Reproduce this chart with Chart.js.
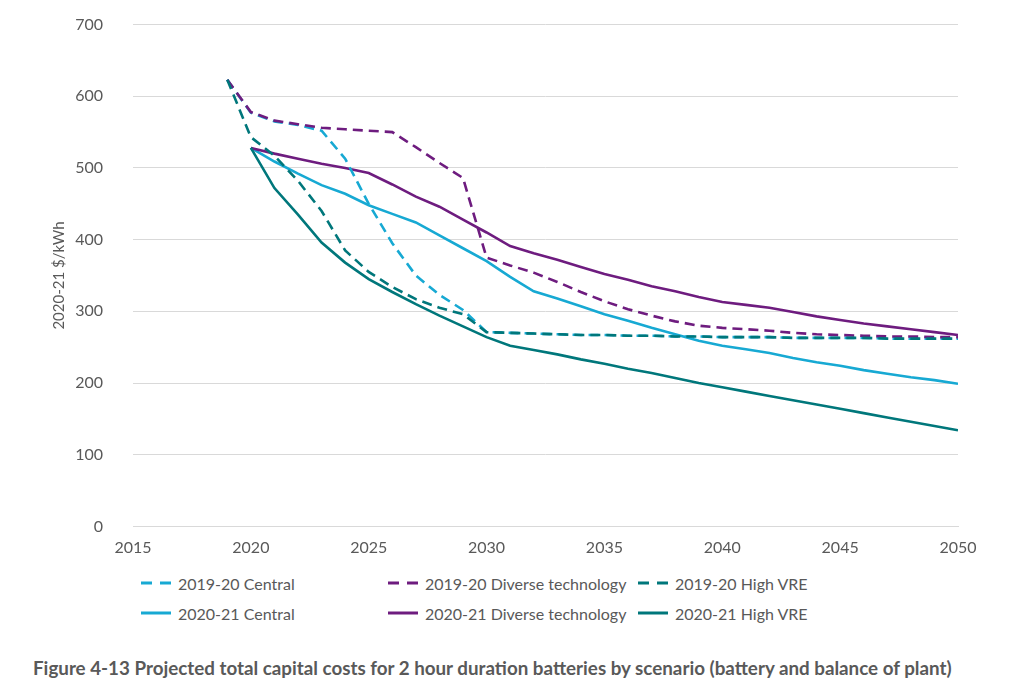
<!DOCTYPE html>
<html>
<head>
<meta charset="utf-8">
<script src="https://cdn.jsdelivr.net/npm/chart.js@4.4.1/dist/chart.umd.min.js"></script>
<style>
  body { margin: 0; background: #fff; font-family: Lato, "Open Sans", sans-serif; }
  #wrap { position: relative; width: 1024px; height: 699px; overflow: hidden; }
  #chart { position: absolute; left: 0; top: -15px; }
  .leg { position: absolute; display: flex; align-items: center; font-size: 16px; color: #595959; white-space: nowrap; }
  .leg svg { margin-right: 6px; }
  #caption { position: absolute; left: 33px; top: 656px; font-size: 18.8px; font-weight: bold; color: #595959; white-space: nowrap; }
</style>
</head>
<body>
<div id="wrap">
  <canvas id="chart" width="1024" height="581"></canvas>
  <div id="legend"></div>
  <div id="caption">Figure 4-13 Projected total capital costs for 2 hour duration batteries by scenario (battery and balance of plant)</div>
</div>
<script>
// years on the x axis
const years = [2019, 2020, 2021, 2022, 2023, 2024, 2025, 2026, 2027, 2028, 2029, 2030,
  2031, 2032, 2033, 2034, 2035, 2036, 2037, 2038, 2039, 2040,
  2041, 2042, 2043, 2044, 2045, 2046, 2047, 2048, 2049, 2050];

// 2019-20 projections ($/kWh)
const central1920 = [623, 577, 565, 560, 552, 513, 450, 395, 350, 323, 302, 271,
  270, 269, 268, 267, 267, 266, 266, 265, 265, 264,
  264, 264, 263, 263, 263, 263, 262, 262, 262, 262];
const diverse1920 = [623, 578, 566, 561, 556, 554, 552, 550, 529, 507, 486, 375,
  364, 354, 341, 327, 314, 303, 294, 286, 280, 277,
  275, 273, 270, 268, 267, 266, 265, 265, 264, 264];
const highVre1920 = [623, 543, 517, 482, 440, 385, 355, 334, 317, 305, 296, 271,
  270, 269, 268, 267, 267, 266, 266, 265, 265, 264,
  264, 264, 263, 263, 263, 263, 262, 262, 262, 262];

// 2020-21 projections ($/kWh), no value for 2019
const central2021 = [null, 528, 509, 492, 476, 464, 448, 436, 424, 406, 388, 370,
  348, 328, 318, 307, 296, 287, 277, 268, 259, 252,
  247, 242, 235, 229, 224, 218, 213, 208, 204, 199];
const diverse2021 = [null, 528, 520, 513, 506, 500, 493, 477, 460, 446, 428, 410,
  391, 381, 372, 362, 352, 344, 335, 328, 320, 313,
  309, 305, 299, 293, 288, 283, 279, 275, 271, 267];
const highVre2021 = [null, 528, 472, 435, 396, 368, 345, 327, 310, 294, 279, 264,
  252, 246, 240, 233, 227, 220, 214, 207, 200, 194,
  188, 182, 176, 170, 164, 158, 152, 146, 140, 134];

const seriesNames = ['2019-20 Central', '2019-20 Diverse technology', '2019-20 High VRE',
  '2020-21 Central', '2020-21 Diverse technology', '2020-21 High VRE'];

const yTicks = [0, 100, 200, 300, 400, 500, 600, 700];
const xTicks = [2015, 2020, 2025, 2030, 2035, 2040, 2045, 2050];

const lightBlue = '#17a9d3';
const purple = '#6e1c7f';
const teal = '#00777b';
const dash = [10, 6];

function pts(vals) {
  return years.map((y, i) => ({ x: y, y: vals[i] })).filter(p => p.y !== null);
}

const seriesValues = [central1920, diverse1920, highVre1920, central2021, diverse2021, highVre2021];
const seriesColors = [lightBlue, purple, teal, lightBlue, purple, teal];
const seriesDashed = [true, true, true, false, false, false];
const drawOrder = [3, 2, 1, 6, 5, 4];

const datasets = seriesNames.map((name, i) => ({
  label: name,
  data: pts(seriesValues[i]),
  borderColor: seriesColors[i],
  backgroundColor: seriesColors[i],
  borderWidth: 2.6,
  borderDash: seriesDashed[i] ? dash : [],
  pointRadius: 0,
  tension: 0,
  fill: false,
  order: drawOrder[i]
}));

const fontFamily = 'Lato, "Open Sans", sans-serif';

new Chart(document.getElementById('chart').getContext('2d'), {
  type: 'line',
  data: { datasets: datasets },
  options: {
    responsive: false,
    animation: false,
    layout: { padding: { left: 50, right: 66, top: 10, bottom: 0 } },
    plugins: { legend: { display: false }, tooltip: { enabled: false } },
    scales: {
      x: {
        type: 'linear',
        min: 2015,
        max: 2050,
        afterBuildTicks: s => { s.ticks = xTicks.map(v => ({ value: v })); },
        afterFit: s => { s.height = 34; },
        grid: { display: false, drawTicks: false },
        border: { display: true, color: '#d9d9d9', width: 1 },
        ticks: { padding: 12, color: '#595959', font: { family: fontFamily, size: 16 }, callback: v => String(v) }
      },
      y: {
        min: 0,
        max: 700,
        afterBuildTicks: s => { s.ticks = yTicks.map(v => ({ value: v })); },
        afterFit: s => { s.width = 83; },
        grid: { color: '#d9d9d9', drawTicks: false, lineWidth: 1 },
        border: { display: false },
        ticks: { padding: 30, color: '#595959', font: { family: fontFamily, size: 16 } },
        title: { display: true, text: '2020-21 $/kWh', color: '#595959', font: { family: fontFamily, size: 15 }, padding: 0 }
      }
    }
  }
});

// legend as html, three columns and two rows
const legendCols = [140, 387, 637];
const legendRows = [573, 603];
const legendEl = document.getElementById('legend');
seriesNames.forEach((name, i) => {
  const item = document.createElement('div');
  item.className = 'leg';
  item.style.left = legendCols[i % 3] + 'px';
  item.style.top = legendRows[Math.floor(i / 3)] + 'px';
  const dashAttr = seriesDashed[i] ? ' stroke-dasharray="11 8"' : '';
  item.innerHTML = '<svg width="32" height="20"><line x1="1" y1="10" x2="31" y2="10" stroke="' +
    seriesColors[i] + '" stroke-width="3"' + dashAttr + '/></svg><span>' + name + '</span>';
  legendEl.appendChild(item);
});
</script>
</body>
</html>
